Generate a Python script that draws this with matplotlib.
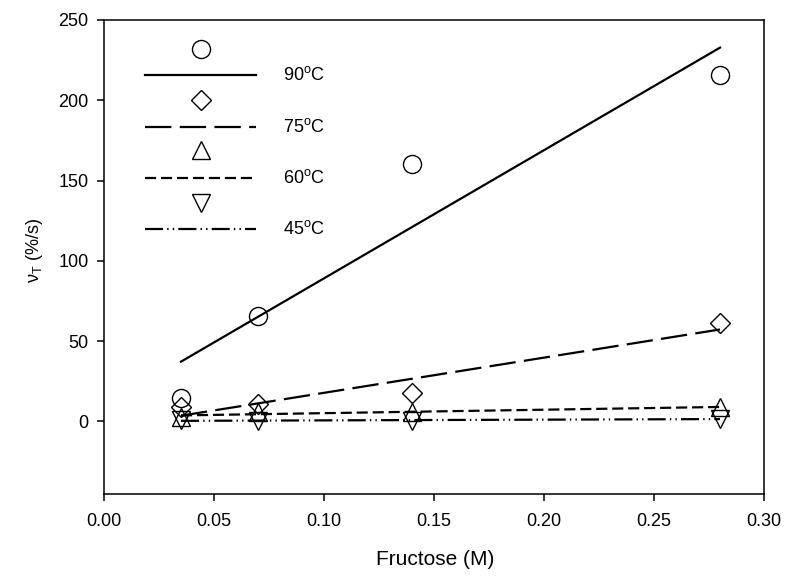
import numpy as np
import matplotlib
matplotlib.use('Agg')
import matplotlib.pyplot as plt

plt.rcParams['font.family'] = ['Liberation Sans', 'DejaVu Sans']
plt.rcParams['mathtext.default'] = 'regular'
plt.rcParams['lines.scale_dashes'] = False

# fructose concentration (M) and initial rate at each temperature
fructose = [0.035, 0.07, 0.14, 0.28]
rate_90 = [14.5, 65.5, 160, 216]
rate_75 = [8.9, 10.6, 17.8, 61]
rate_60 = [2.9, 5.5, 5.6, 8.9]
rate_45 = [0.8, 0.3, 0.0, 1.7]

labels = ['90$^o$C', '75$^o$C', '60$^o$C', '45$^o$C']
markers = ['o', 'D', '^', 'v']
msizes = [13, 10.5, 13, 13]
dashes = [None, (19, 6), (8, 3.5), (13, 3, 1, 3, 1, 3)]

series = [rate_90, rate_75, rate_60, rate_45]

fig = plt.figure(figsize=(7.87, 5.79), dpi=100)
ax = fig.add_axes([104 / 787, 1 - 493.5 / 579, 660 / 787, 473.5 / 579])

x = np.array(fructose)
for y, m, ms, d in zip(series, markers, msizes, dashes):
    ax.plot(x, y, linestyle='none', marker=m, markersize=ms,
            markerfacecolor='none', markeredgecolor='black', markeredgewidth=1.0)
    # linear regression line over the measured range
    k, b = np.polyfit(x, y, 1)
    xl = np.array([x.min(), x.max()])
    ln, = ax.plot(xl, k * xl + b, color='black', lw=1.6)
    if d is not None:
        ln.set_dashes(d)

# legend: marker on its own row above each line sample
marker_y = [0.939, 0.831, 0.725, 0.614]
line_y = [0.884, 0.775, 0.667, 0.559]
for i in range(4):
    ax.plot([0.1465], [marker_y[i]], transform=ax.transAxes, linestyle='none',
            marker=markers[i], markersize=msizes[i], markerfacecolor='none',
            markeredgecolor='black', markeredgewidth=1.0, clip_on=False)
    ln, = ax.plot([0.062, 0.230], [line_y[i], line_y[i]], transform=ax.transAxes,
                  color='black', lw=1.6)
    if dashes[i] is not None:
        ln.set_dashes(dashes[i])
    ax.text(0.271, line_y[i], labels[i], transform=ax.transAxes,
            fontsize=13, va='center', ha='left')

ax.set_xlim(0, 0.30)
ax.set_ylim(-45, 250)
ax.set_xticks(np.arange(0, 0.301, 0.05))
ax.set_xticklabels(['%.2f' % v for v in np.arange(0, 0.301, 0.05)])
ax.set_yticks(np.arange(0, 251, 50))

for s in ax.spines.values():
    s.set_linewidth(1.1)
ax.tick_params(direction='out', length=5, width=1.1, labelsize=13,
               top=False, right=False)
ax.tick_params(axis='x', pad=9)
ax.tick_params(axis='y', pad=6)

ax.set_xlabel('Fructose (M)', fontsize=15)
ax.set_ylabel(r'$\nu_T$ (%/s)', fontsize=13)
ax.xaxis.set_label_coords(0.502, -0.12)
ax.yaxis.set_label_coords(-0.09, 0.514)

fig.savefig('out.png', dpi=100)
